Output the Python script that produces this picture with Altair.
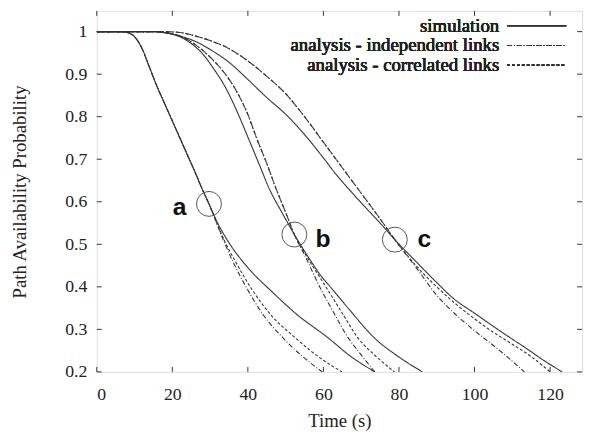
import altair as alt
import pandas as pd

# ---------------- data ----------------
a_sim_t = [0, 6, 8, 10, 12, 14, 16, 18, 20, 22, 24, 26, 28, 29.7, 32, 34.9, 40, 46.2, 53, 61.4, 67, 73.6]
a_sim_p = [1, 1, 0.998, 0.988, 0.96, 0.915, 0.87, 0.83, 0.79, 0.75, 0.71, 0.67, 0.628, 0.595, 0.55, 0.505, 0.445, 0.39, 0.335, 0.279, 0.238, 0.2]
a_ind_t = [0, 6, 8, 10, 12, 14, 16, 18, 20, 22, 24, 26, 28, 29.7, 31.5, 33.5, 36, 39.2, 44, 49.3, 54, 59.7]
a_ind_p = [1, 1, 0.998, 0.988, 0.96, 0.915, 0.87, 0.83, 0.79, 0.75, 0.71, 0.67, 0.628, 0.595, 0.555, 0.51, 0.46, 0.405, 0.335, 0.28, 0.24, 0.2]
a_cor_t = [0, 6, 8, 10, 12, 14, 16, 18, 20, 22, 24, 26, 28, 29.7, 32, 34, 37, 41, 46, 52.7, 58, 64.9]
a_cor_p = [1, 1, 0.998, 0.988, 0.96, 0.915, 0.87, 0.83, 0.79, 0.75, 0.71, 0.67, 0.628, 0.595, 0.545, 0.505, 0.455, 0.395, 0.335, 0.279, 0.24, 0.2]

b_sim_t = [0, 15, 18, 21.4, 25, 28, 31, 34, 37, 40.1, 43, 45.7, 49, 52.3, 56, 59, 62.3, 67, 73.6, 80, 86.2]
b_sim_p = [1, 1, 0.997, 0.99, 0.972, 0.948, 0.912, 0.87, 0.815, 0.75, 0.688, 0.63, 0.575, 0.523, 0.47, 0.43, 0.395, 0.345, 0.279, 0.235, 0.2]
b_ind_t = [0, 16, 19, 22, 26, 30, 33.6, 37, 40, 42.3, 45, 47.5, 50, 52.3, 55, 59.3, 63, 66.2, 70, 73.6]
b_ind_p = [1, 1, 0.997, 0.99, 0.97, 0.94, 0.905, 0.86, 0.805, 0.75, 0.69, 0.63, 0.575, 0.523, 0.475, 0.395, 0.335, 0.285, 0.24, 0.2]
b_cor_t = [0, 16, 19, 22, 26, 30, 33.6, 37, 40, 42.3, 45, 47.5, 50, 52.3, 55, 58, 61, 65, 69.2, 74, 78.8]
b_cor_p = [1, 1, 0.997, 0.99, 0.97, 0.94, 0.905, 0.86, 0.805, 0.75, 0.69, 0.63, 0.575, 0.523, 0.48, 0.437, 0.395, 0.338, 0.279, 0.236, 0.2]

c_sim_t = [0, 15, 19, 23, 26.6, 30, 35, 39.7, 45, 50.1, 55, 60, 63.2, 67, 71, 75, 78.9, 85, 90, 94.5, 100, 105, 110, 113.6, 118, 123.2]
c_sim_p = [1, 1, 0.996, 0.987, 0.975, 0.958, 0.928, 0.89, 0.845, 0.805, 0.758, 0.703, 0.666, 0.627, 0.588, 0.55, 0.511, 0.455, 0.41, 0.372, 0.338, 0.307, 0.277, 0.256, 0.229, 0.2]
c_ind_t = [0, 18, 22, 26, 30, 35, 40, 45, 50, 55, 60, 65, 70, 75, 78.9, 85, 90, 95, 100, 106.7, 113.2]
c_ind_p = [1, 1, 0.998, 0.99, 0.979, 0.96, 0.931, 0.895, 0.854, 0.8, 0.74, 0.68, 0.62, 0.56, 0.511, 0.44, 0.38, 0.335, 0.297, 0.25, 0.2]
c_cor_t = [0, 18, 22, 26, 30, 35, 40, 45, 50, 55, 60, 65, 70, 75, 78.9, 85, 90, 95, 100, 105, 110, 115, 120]
c_cor_p = [1, 1, 0.998, 0.99, 0.979, 0.96, 0.931, 0.895, 0.854, 0.8, 0.74, 0.68, 0.62, 0.56, 0.511, 0.445, 0.4, 0.36, 0.325, 0.293, 0.265, 0.236, 0.2]

kinds = ["simulation", "analysis - independent links", "analysis - correlated links"]

circle_names = ["a", "b", "c"]
circle_t = [29.7, 52.3, 78.9]
circle_p = [0.595, 0.523, 0.511]
label_t = [21.9, 59.9, 86.7]
label_p = [0.569, 0.4925, 0.4925]

x_ticks = [0, 20, 40, 60, 80, 100, 120]
y_ticks = [0.2, 0.3, 0.4, 0.5, 0.6, 0.7, 0.8, 0.9, 1.0]

# ---------------- build table ----------------
series = [
    ("a", kinds[0], a_sim_t, a_sim_p), ("a", kinds[1], a_ind_t, a_ind_p), ("a", kinds[2], a_cor_t, a_cor_p),
    ("b", kinds[0], b_sim_t, b_sim_p), ("b", kinds[1], b_ind_t, b_ind_p), ("b", kinds[2], b_cor_t, b_cor_p),
    ("c", kinds[0], c_sim_t, c_sim_p), ("c", kinds[1], c_ind_t, c_ind_p), ("c", kinds[2], c_cor_t, c_cor_p),
]
rows = []
for g, k, ts, ps in series:
    for i, (t, p) in enumerate(zip(ts, ps)):
        rows.append({"t": t, "p": p, "series": g + "|" + k, "kind": k, "order": i})
df = pd.DataFrame(rows)

circ = pd.DataFrame({"name": circle_names, "t": circle_t, "p": circle_p})
labs = pd.DataFrame({"name": circle_names, "t": label_t, "p": label_p})
xt = pd.DataFrame({"v": x_ticks})
yt = pd.DataFrame({"v": y_ticks})

W, H = 492, 366
XDOM = [0, 128.46]
YDOM = [0.2, 1.0487]
SERIF = "Liberation Serif"
INK = "#333333"

xs = alt.Scale(domain=XDOM, nice=False, zero=False)
ys = alt.Scale(domain=YDOM, nice=False, zero=False)

lines = alt.Chart(df).mark_line(interpolate="monotone", strokeWidth=1.1, color=INK, clip=True).encode(
    x=alt.X("t:Q", scale=xs, axis=alt.Axis(
        values=x_ticks, ticks=False, domain=False, grid=False, labelFont=SERIF, labelFontSize=18,
        labelColor="#222", labelPadding=14, title="Time (s)", titleFont=SERIF, titleFontSize=19,
        titleFontWeight="normal", titleColor="#222", titlePadding=8)),
    y=alt.Y("p:Q", scale=ys, axis=alt.Axis(
        values=y_ticks, ticks=False, domain=False, grid=False, labelFont=SERIF, labelFontSize=18,
        labelColor="#222", labelPadding=10,
        labelExpr="datum.value == 1 ? '1' : format(datum.value, '.1f')",
        title="Path Availability Probability", titleFont=SERIF, titleFontSize=19,
        titleFontWeight="normal", titleColor="#222", titleX=-78, titleY=183,
        titleAlign="center", titleBaseline="middle", titleAngle=270)),
    detail="series:N",
    order="order:Q",
    strokeDash=alt.StrokeDash("kind:N", scale=alt.Scale(domain=kinds, range=[[1, 0], [5, 2, 1, 2], [3, 2]]), legend=None),
)

tick_bottom = alt.Chart(xt).mark_rule(color=INK, strokeWidth=1).encode(
    x=alt.X("v:Q", scale=xs), y=alt.value(H), y2=alt.value(H - 5))
tick_top = alt.Chart(xt).mark_rule(color=INK, strokeWidth=1).encode(
    x=alt.X("v:Q", scale=xs), y=alt.value(0), y2=alt.value(5))
tick_left = alt.Chart(yt).mark_rule(color=INK, strokeWidth=1).encode(
    y=alt.Y("v:Q", scale=ys), x=alt.value(0), x2=alt.value(5))
tick_right = alt.Chart(yt).mark_rule(color=INK, strokeWidth=1).encode(
    y=alt.Y("v:Q", scale=ys), x=alt.value(W), x2=alt.value(W - 5))

circles = alt.Chart(circ).mark_point(shape="circle", size=640, filled=False, color="#555", strokeWidth=1, opacity=1).encode(
    x=alt.X("t:Q", scale=xs), y=alt.Y("p:Q", scale=ys))
letters = alt.Chart(labs).mark_text(font="Liberation Sans", fontWeight="bold", fontSize=25, color="#111",
                                    align="center", baseline="alphabetic").encode(
    x=alt.X("t:Q", scale=xs), y=alt.Y("p:Q", scale=ys), text="name:N")

# legend (gnuplot style: label left, sample right)
leg_layers = []
dashes = [[1, 0], [5, 2, 1, 2], [3, 2]]
for i, k in enumerate(kinds):
    yy = 15 + 20 * i
    leg_layers.append(alt.Chart(xt).mark_text(text=k, font=SERIF, fontSize=19, color="#222",
                                              fontWeight="normal", align="right", baseline="middle").encode(
        x=alt.value(408), y=alt.value(yy)))
    leg_layers.append(alt.Chart(xt).mark_rule(color=INK, strokeWidth=1.1, strokeDash=dashes[i]).encode(
        x=alt.value(416), x2=alt.value(476), y=alt.value(yy)))

chart = alt.layer(lines, tick_bottom, tick_top, tick_left, tick_right, circles, letters, *leg_layers).properties(
    width=W, height=H,
    autosize=alt.AutoSizeParams(type="none"),
    padding={"left": 90, "top": 0, "right": 3, "bottom": 60},
).configure_view(stroke=INK, strokeWidth=1.2).configure(background="white")

chart.save("out.html", embed_options={"renderer": "svg", "actions": False})
